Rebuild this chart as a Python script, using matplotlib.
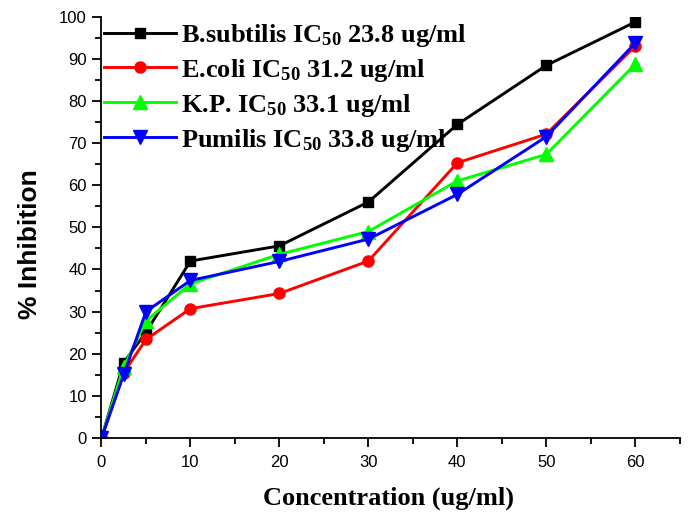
import matplotlib
matplotlib.use("Agg")
import matplotlib.pyplot as plt
from matplotlib.ticker import MultipleLocator

plt.rcParams['mathtext.fontset'] = 'custom'
plt.rcParams['mathtext.rm'] = 'Liberation Serif:bold'
plt.rcParams['mathtext.bf'] = 'Liberation Serif:bold'
plt.rcParams['mathtext.it'] = 'Liberation Serif:bold'

conc = [0, 2.5, 5, 10, 20, 30, 40, 50, 60]
bsubtilis = [0, 17.9, 25.1, 42.0, 45.6, 56.0, 74.4, 88.4, 98.7]
ecoli = [0, 15.5, 23.4, 30.7, 34.3, 42.0, 65.3, 72.1, 93.0]
kp = [0, 16.9, 27.8, 36.6, 43.6, 49.0, 61.0, 67.3, 88.7]
pumilis = [0, 15.1, 30.0, 37.4, 41.9, 47.2, 57.8, 71.5, 93.7]

labels = [r"B.subtilis IC$_{\mathrm{50}}$ 23.8 ug/ml",
          r"E.coli IC$_{\mathrm{50}}$ 31.2 ug/ml",
          r"K.P. IC$_{\mathrm{50}}$ 33.1 ug/ml",
          r"Pumilis IC$_{\mathrm{50}}$ 33.8 ug/ml"]
series = [bsubtilis, ecoli, kp, pumilis]
colors = ['#000000', '#ff0000', '#00ff00', '#0000ff']
markers = ['s', 'o', '^', 'v']
msizes = [7, 8, 9.5, 9.5]

fig = plt.figure(figsize=(6.88, 5.16), dpi=100)
ax = fig.add_axes([0.1475, 0.151, 0.8405, 0.817])

for y, c, m, ms, lab in zip(series, colors, markers, msizes, labels):
    ax.plot(conc, y, color=c, marker=m, markersize=ms, linewidth=2.1,
            label=lab)

ax.set_xlim(0, 65)
ax.set_ylim(0, 100)
ax.xaxis.set_major_locator(MultipleLocator(10))
ax.xaxis.set_minor_locator(MultipleLocator(5))
ax.yaxis.set_major_locator(MultipleLocator(10))
ax.yaxis.set_minor_locator(MultipleLocator(5))
ax.set_xticks([0, 10, 20, 30, 40, 50, 60])

for s in ['top', 'right']:
    ax.spines[s].set_visible(False)
for s in ['left', 'bottom']:
    ax.spines[s].set_linewidth(1.3)

ax.tick_params(which='major', direction='out', length=6.5, width=1.3,
               labelsize=12)
ax.tick_params(axis='x', which='major', pad=6)
ax.tick_params(axis='y', which='major', pad=4)
ax.tick_params(which='minor', direction='out', length=4, width=1.3)
for lbl in ax.get_xticklabels() + ax.get_yticklabels():
    lbl.set_fontfamily('Liberation Sans')

ax.set_xlabel("Concentration (ug/ml)", fontfamily='Liberation Serif',
              fontweight='bold', fontsize=19)
ax.xaxis.set_label_coords(0.497, -0.115)
ax.set_ylabel("% Inhibition", fontfamily='Liberation Sans',
              fontweight='bold', fontsize=19)
ax.yaxis.set_label_coords(-0.103, 0.46)

leg = ax.legend(loc='upper left', bbox_to_anchor=(-0.004, 1.0), frameon=False,
                prop={'family': 'Liberation Serif', 'weight': 'bold', 'size': 19},
                handlelength=2.7, handletextpad=0.2, labelspacing=0.3,
                borderaxespad=0.0, borderpad=0.2)

fig.savefig("out.png", dpi=100)
